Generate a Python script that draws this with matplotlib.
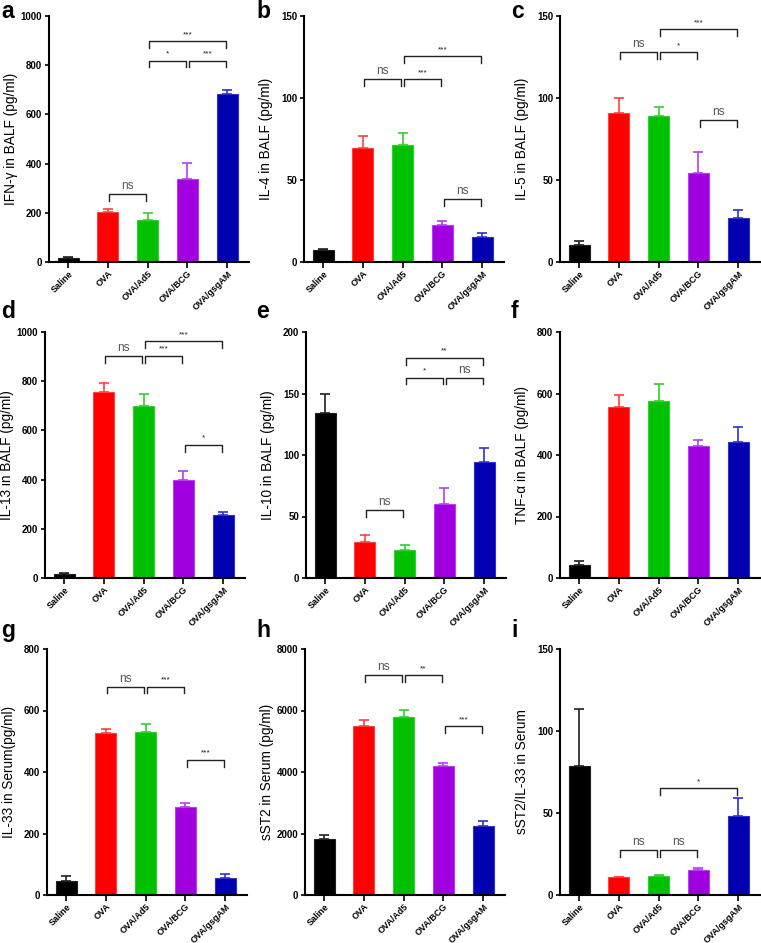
import matplotlib
matplotlib.use("Agg")
import matplotlib.pyplot as plt
import numpy as np

plt.rcParams['font.family'] = ['Liberation Sans', 'DejaVu Sans']

# groupes et couleurs
groups = ['Saline', 'OVA', 'OVA/Ad5', 'OVA/BCG', 'OVA/gsgAM']
bar_colors = ['#000000', '#FF0000', '#00C000', '#A000E0', '#0000B0']
edge_colors = ['#202020', '#FF4040', '#30D030', '#B040F0', '#3030D0']

# valeurs (moyenne, SEM)
ifn_mean = [16, 203, 172, 337, 682]
ifn_sem = [4, 13, 28, 66, 19]
il4_mean = [7.1, 69.5, 71.1, 22.4, 15.4]
il4_sem = [1.0, 7.1, 7.6, 2.4, 2.3]
il5_mean = [10.6, 90.9, 88.8, 54.3, 26.8]
il5_sem = [2.0, 9.1, 5.7, 12.6, 4.7]
il13_mean = [17, 756, 698, 397, 257]
il13_sem = [3, 37, 51, 38, 13]
il10_mean = [134, 29.3, 22.8, 60, 94.7]
il10_sem = [15.8, 6.0, 4.1, 13.3, 11.1]
tnf_mean = [42, 556, 575, 430, 443]
tnf_sem = [14, 40, 55, 20, 47]
il33_mean = [47, 526, 530, 285, 56]
il33_sem = [15, 15, 26, 14, 12]
sst2_mean = [1821, 5507, 5800, 4184, 2233]
sst2_sem = [130, 173, 205, 98, 163]
ratio_mean = [78.4, 10.8, 11.6, 15.3, 48.2]
ratio_sem = [35, 0.4, 0.4, 1.0, 11.2]

# brackets de significativite : (groupe1, groupe2, hauteur, texte)
ifn_sig = [(1, 2, 275, 'ns'), (2, 3, 819, '*'), (3, 4, 819, '***'), (2, 4, 897, '***')]
il4_sig = [(1, 2, 111.6, 'ns'), (2, 3, 111.6, '***'), (2, 4, 125.4, '***'), (3, 4, 38.4, 'ns')]
il5_sig = [(1, 2, 128, 'ns'), (2, 3, 128, '*'), (2, 4, 142, '***'), (3, 4, 86.8, 'ns')]
il13_sig = [(1, 2, 904, 'ns'), (2, 3, 904, '***'), (2, 4, 962, '***'), (3, 4, 542, '*')]
il10_sig = [(1, 2, 55, 'ns'), (2, 3, 163, '*'), (3, 4, 163, 'ns'), (2, 4, 179, '**')]
tnf_sig = []
il33_sig = [(1, 2, 678, 'ns'), (2, 3, 678, '***'), (3, 4, 440, '***')]
sst2_sig = [(1, 2, 7144, 'ns'), (2, 3, 7144, '**'), (3, 4, 5485, '***')]
ratio_sig = [(1, 2, 27.5, 'ns'), (2, 3, 27.5, 'ns'), (2, 4, 65, '*')]

panels = [
    ('a', ifn_mean, ifn_sem, ifn_sig, 'IFN-γ in BALF (pg/ml)', 1000, 200),
    ('b', il4_mean, il4_sem, il4_sig, 'IL-4 in BALF (pg/ml)', 150, 50),
    ('c', il5_mean, il5_sem, il5_sig, 'IL-5 in BALF (pg/ml)', 150, 50),
    ('d', il13_mean, il13_sem, il13_sig, 'IL-13 in BALF (pg/ml)', 1000, 200),
    ('e', il10_mean, il10_sem, il10_sig, 'IL-10 in BALF (pg/ml)', 200, 50),
    ('f', tnf_mean, tnf_sem, tnf_sig, 'TNF-α in BALF (pg/ml)', 800, 200),
    ('g', il33_mean, il33_sem, il33_sig, 'IL-33 in Serum(pg/ml)', 800, 200),
    ('h', sst2_mean, sst2_sem, sst2_sig, 'sST2 in Serum (pg/ml)', 8000, 2000),
    ('i', ratio_mean, ratio_sem, ratio_sig, 'sST2/IL-33 in Serum', 150, 50),
]

W, H = 761, 943
fig = plt.figure(figsize=(W / 100, H / 100), dpi=100)

# positions des axes en pixels (gauche, haut)
col_left = [[49, 304, 560], [45, 306, 560], [47, 305, 560]]
row_top = [16, 332, 649]
ax_w, ax_h = 200, 246
letter_base = [18, 318, 637]

x = np.arange(5)

for k, (letter, mean, sem, sig, ylab, ymax, ystep) in enumerate(panels):
    r, c = k // 3, k % 3
    left = col_left[r][c]
    top = row_top[r]
    ax = fig.add_axes([left / W, 1 - (top + ax_h) / H, ax_w / W, ax_h / H])

    ax.bar(x, mean, width=0.53, color=bar_colors, edgecolor=edge_colors, linewidth=0.8, zorder=2)
    for i in range(5):
        ax.errorbar(x[i], mean[i], yerr=[[0], [sem[i]]], fmt='none', ecolor=edge_colors[i],
                    elinewidth=1.2, capsize=3.6, capthick=1.2, zorder=1)

    leg = 0.028 * ymax
    for g1, g2, yh, txt in sig:
        x1, x2 = g1 + 0.04, g2 - 0.04
        ax.plot([x1, x1, x2, x2], [yh - leg, yh, yh, yh - leg], color='#222222', lw=1.0, zorder=3)
        if txt == 'ns':
            ax.text((x1 + x2) / 2, yh + 0.008 * ymax, txt, ha='center', va='bottom',
                    fontsize=8.5, color='#555555')
        else:
            ax.text((x1 + x2) / 2, yh + 0.012 * ymax, txt, ha='center', va='bottom',
                    fontsize=6, color='#222222')

    ax.set_xlim(-0.48, 4.55)
    ax.set_ylim(0, ymax)
    ax.set_yticks(np.arange(0, ymax + ystep / 2, ystep))
    ax.set_xticks(x)
    ax.set_xticklabels(groups, rotation=45, ha='right', rotation_mode='anchor',
                       fontsize=6.5, fontweight='bold')
    for lab in ax.get_yticklabels():
        lab.set_fontweight('bold')
        lab.set_fontsize(7)
    ax.tick_params(axis='y', length=3, width=1.2, pad=2)
    ax.tick_params(axis='x', length=4, width=1.2, pad=1)
    ax.spines['top'].set_visible(False)
    ax.spines['right'].set_visible(False)
    ax.spines['left'].set_linewidth(1.5)
    ax.spines['bottom'].set_linewidth(1.5)
    ax.set_ylabel(ylab, fontsize=9.8)
    ax.yaxis.set_label_coords(-31 / ax_w, 0.5)

    lx = [1, 256, 511][c]
    fig.text(lx / W, 1 - letter_base[r] / H, letter, fontsize=16.5, fontweight='bold',
             ha='left', va='baseline')

fig.savefig('out.png', dpi=100)
